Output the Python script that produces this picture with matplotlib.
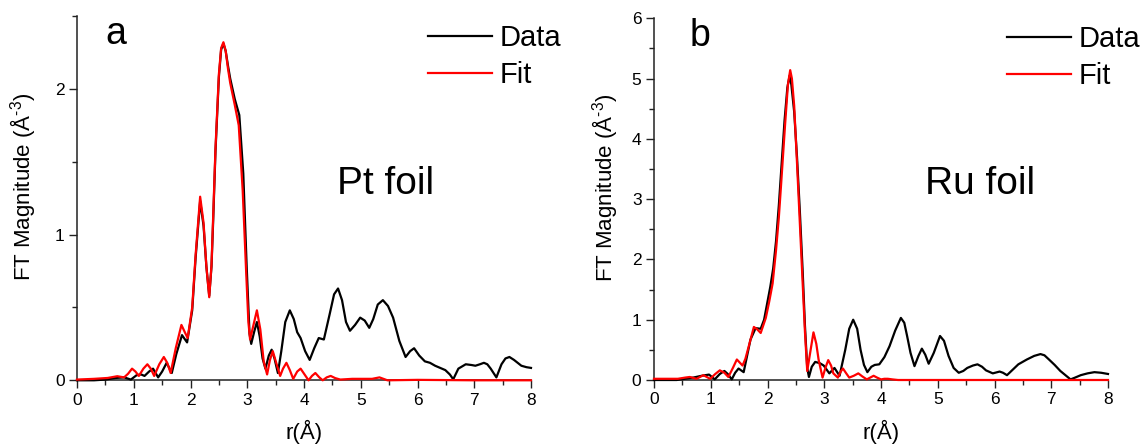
import matplotlib
matplotlib.use("Agg")
import matplotlib.pyplot as plt
from matplotlib.ticker import MultipleLocator

plt.rcParams['font.family'] = ['Liberation Sans', 'DejaVu Sans']
plt.rcParams['mathtext.fontset'] = 'custom'
plt.rcParams['mathtext.rm'] = 'Liberation Sans'
plt.rcParams['mathtext.it'] = 'Liberation Sans:italic'

# ---------------- Panel a: Pt foil ----------------
ra_data = [0.0, 0.3, 0.5, 0.68, 0.83, 0.95, 1.05, 1.13, 1.19, 1.27, 1.34, 1.43, 1.5, 1.58, 1.67,
           1.75, 1.85, 1.94, 2.03, 2.09, 2.17, 2.23, 2.28, 2.33, 2.37, 2.40, 2.44, 2.50, 2.54, 2.58,
           2.62, 2.66, 2.70, 2.78, 2.86, 2.93, 2.99, 3.04, 3.07, 3.12, 3.17, 3.22, 3.27, 3.32, 3.38,
           3.43, 3.48, 3.54, 3.60, 3.67, 3.75, 3.82, 3.88, 3.94, 4.02, 4.10, 4.18, 4.26, 4.35, 4.45,
           4.53, 4.60, 4.67, 4.74, 4.81, 4.90, 4.99, 5.07, 5.15, 5.22, 5.30, 5.39, 5.48, 5.57, 5.68,
           5.79, 5.87, 5.94, 6.03, 6.13, 6.22, 6.31, 6.40, 6.49, 6.57, 6.63, 6.72, 6.85, 6.95, 7.02,
           7.10, 7.17, 7.23, 7.29, 7.39, 7.48, 7.55, 7.62, 7.70, 7.83, 7.92, 8.0]
va_data = [0.0, 0.0, 0.005, 0.016, 0.02, 0.005, 0.035, 0.04, 0.03, 0.06, 0.08, 0.02, 0.06, 0.12, 0.05,
           0.18, 0.31, 0.26, 0.48, 0.84, 1.23, 1.06, 0.78, 0.58, 0.78, 1.10, 1.57, 2.08, 2.27, 2.31,
           2.26, 2.16, 2.07, 1.93, 1.82, 1.42, 0.78, 0.32, 0.25, 0.33, 0.40, 0.30, 0.15, 0.08, 0.17,
           0.21, 0.15, 0.05, 0.20, 0.40, 0.48, 0.42, 0.33, 0.29, 0.20, 0.14, 0.22, 0.29, 0.28, 0.45,
           0.59, 0.63, 0.55, 0.40, 0.34, 0.38, 0.43, 0.41, 0.36, 0.42, 0.52, 0.55, 0.51, 0.43, 0.27,
           0.16, 0.20, 0.22, 0.17, 0.13, 0.12, 0.10, 0.085, 0.07, 0.04, 0.007, 0.08, 0.11, 0.105, 0.10,
           0.11, 0.12, 0.11, 0.08, 0.02, 0.11, 0.15, 0.16, 0.14, 0.10, 0.09, 0.085]

ra_fit = [0.0, 0.3, 0.54, 0.71, 0.83, 0.90, 0.97, 1.03, 1.09, 1.17, 1.24, 1.30, 1.36, 1.45, 1.53,
          1.59, 1.65, 1.74, 1.84, 1.90, 1.95, 2.03, 2.09, 2.17, 2.23, 2.28, 2.33, 2.37, 2.40, 2.44,
          2.50, 2.54, 2.58, 2.62, 2.66, 2.70, 2.78, 2.85, 2.92, 2.98, 3.02, 3.05, 3.11, 3.17, 3.23,
          3.29, 3.35, 3.40, 3.45, 3.51, 3.58, 3.63, 3.69, 3.75, 3.81, 3.88, 3.94, 4.01, 4.08, 4.14,
          4.20, 4.27, 4.33, 4.40, 4.47, 4.55, 4.64, 4.85, 5.06, 5.20, 5.33, 5.40, 5.47, 6.0, 7.0, 8.0]
va_fit = [0.005, 0.01, 0.016, 0.028, 0.02, 0.045, 0.08, 0.06, 0.03, 0.08, 0.11, 0.08, 0.03, 0.11, 0.16,
          0.12, 0.05, 0.22, 0.38, 0.33, 0.29, 0.50, 0.86, 1.26, 1.08, 0.78, 0.57, 0.79, 1.13, 1.59,
          2.10, 2.28, 2.32, 2.26, 2.14, 2.04, 1.89, 1.75, 1.30, 0.75, 0.40, 0.28, 0.38, 0.48, 0.35,
          0.13, 0.04, 0.14, 0.20, 0.12, 0.03, 0.08, 0.12, 0.07, 0.01, 0.06, 0.08, 0.04, 0.0, 0.03,
          0.05, 0.02, 0.0, 0.02, 0.03, 0.015, 0.005, 0.01, 0.01, 0.01, 0.02, 0.01, 0.0, 0.003, 0.0, 0.0]

# ---------------- Panel b: Ru foil ----------------
rb_data = [0.0, 0.4, 0.54, 0.69, 0.84, 0.97, 1.07, 1.16, 1.24, 1.30, 1.37, 1.43, 1.49, 1.58, 1.64,
           1.70, 1.79, 1.88, 1.94, 2.0, 2.05, 2.10, 2.15, 2.20, 2.25, 2.30, 2.35, 2.39, 2.42, 2.47,
           2.52, 2.57, 2.62, 2.66, 2.70, 2.73, 2.78, 2.84, 2.92, 2.99, 3.09, 3.18, 3.27, 3.37, 3.44,
           3.51, 3.58, 3.64, 3.70, 3.76, 3.83, 3.89, 3.97, 4.06, 4.15, 4.25, 4.35, 4.41, 4.46, 4.52,
           4.59, 4.66, 4.72, 4.78, 4.84, 4.93, 5.04, 5.11, 5.19, 5.28, 5.37, 5.45, 5.52, 5.62, 5.70,
           5.78, 5.85, 5.97, 6.09, 6.15, 6.22, 6.32, 6.42, 6.57, 6.70, 6.81, 6.88, 6.96, 7.06, 7.16,
           7.25, 7.34, 7.42, 7.52, 7.64, 7.76, 7.88, 8.0]
vb_data = [0.0, 0.0, 0.02, 0.04, 0.07, 0.09, 0.01, 0.10, 0.15, 0.10, 0.01, 0.12, 0.19, 0.13, 0.40,
           0.67, 0.86, 0.85, 1.0, 1.3, 1.55, 1.85, 2.3, 2.9, 3.6, 4.3, 4.85, 5.05, 4.9, 4.45,
           3.7, 2.8, 1.8, 0.9, 0.2, 0.05, 0.22, 0.30, 0.28, 0.24, 0.11, 0.20, 0.07, 0.50, 0.85,
           1.00, 0.85, 0.50, 0.25, 0.13, 0.22, 0.25, 0.26, 0.38, 0.56, 0.82, 1.03, 0.95, 0.73, 0.45,
           0.23, 0.40, 0.52, 0.42, 0.27, 0.45, 0.73, 0.65, 0.40, 0.20, 0.12, 0.15, 0.20, 0.24, 0.26,
           0.22, 0.16, 0.11, 0.14, 0.12, 0.08, 0.17, 0.26, 0.34, 0.40, 0.43, 0.41, 0.34, 0.25, 0.15,
           0.08, 0.01, 0.04, 0.08, 0.11, 0.13, 0.12, 0.10]

rb_fit = [0.0, 0.42, 0.55, 0.63, 0.75, 0.87, 0.99, 1.08, 1.16, 1.24, 1.31, 1.39, 1.46, 1.56, 1.61,
          1.67, 1.76, 1.82, 1.88, 1.97, 2.03, 2.09, 2.15, 2.20, 2.24, 2.31, 2.36, 2.40, 2.43, 2.47,
          2.52, 2.57, 2.62, 2.66, 2.70, 2.76, 2.81, 2.86, 2.90, 2.97, 3.02, 3.07, 3.12, 3.16, 3.24,
          3.29, 3.33, 3.38, 3.44, 3.52, 3.60, 3.67, 3.75, 3.81, 3.87, 3.93, 4.0, 4.06, 4.12, 4.20,
          4.30, 8.0]
vb_fit = [0.02, 0.02, 0.04, 0.05, 0.02, 0.08, 0.02, 0.10, 0.16, 0.12, 0.05, 0.20, 0.34, 0.24, 0.35,
          0.56, 0.88, 0.84, 0.78, 1.03, 1.3, 1.6, 2.15, 2.7, 3.25, 4.24, 4.9, 5.14, 5.0, 4.55,
          3.6, 2.6, 1.6, 0.8, 0.15, 0.50, 0.79, 0.60, 0.34, 0.04, 0.20, 0.33, 0.24, 0.11, 0.04,
          0.14, 0.19, 0.12, 0.04, 0.07, 0.11, 0.06, 0.01, 0.04, 0.07, 0.04, 0.01, 0.02, 0.02, 0.01,
          0.0, 0.0]

panels = [
    dict(r_d=ra_data, v_d=va_data, r_f=ra_fit, v_f=va_fit, ylim=(0, 2.5), yticks=[0, 1, 2],
         letter='a', label='Pt foil',
         pos=[77/1147, 1-380.3/447, 454/1147, (380.3-16)/447],
         letter_xy=(0.086, 0.923), label_xy=(0.573, 0.511),
         leg_xy=(428/1147, 1-24/447), ylab_x=-0.085),
    dict(r_d=rb_data, v_d=vb_data, r_f=rb_fit, v_f=vb_fit, ylim=(0, 6), yticks=[0, 1, 2, 3, 4, 5, 6],
         letter='b', label='Ru foil',
         pos=[654/1147, 1-380/447, 454/1147, (380-18.3)/447],
         letter_xy=(0.101, 0.923), label_xy=(0.597, 0.514),
         leg_xy=(1007/1147, 1-25/447), ylab_x=-0.075),
]

fig = plt.figure(figsize=(11.47, 4.47), dpi=100)

for p in panels:
    ax = fig.add_axes(p['pos'])
    ax.plot(p['r_d'], p['v_d'], color='black', lw=1.6, label='Data', clip_on=False, zorder=3)
    ax.plot(p['r_f'], p['v_f'], color='#ff0000', lw=1.6, label='Fit', clip_on=False, zorder=4)
    ax.set_xlim(0, 8)
    ax.set_ylim(*p['ylim'])
    ax.set_xticks(range(0, 9))
    ax.set_yticks(p['yticks'])
    ax.xaxis.set_minor_locator(MultipleLocator(0.5))
    ax.yaxis.set_minor_locator(MultipleLocator(0.5))
    ax.spines['top'].set_visible(False)
    ax.spines['right'].set_visible(False)
    for s in ('left', 'bottom'):
        ax.spines[s].set_linewidth(1.1)
        ax.spines[s].set_color('#222222')
    ax.tick_params(which='major', direction='out', length=6, width=1.0, labelsize=12.5,
                   color='#222222', pad=3)
    ax.tick_params(which='minor', direction='out', length=3.5, width=1.0, color='#222222')
    ax.set_xlabel('r(Å)', fontsize=16)
    ax.xaxis.set_label_coords(0.5, -0.11)
    ax.set_ylabel(r'FT Magnitude (Å$^{\text{-3}}$)', fontsize=16)
    ax.yaxis.set_label_coords(p['ylab_x'], 0.53)
    ax.text(*p['letter_xy'], p['letter'], transform=ax.transAxes, fontsize=27,
            ha='center', va='baseline')
    ax.text(*p['label_xy'], p['label'], transform=ax.transAxes, fontsize=28,
            ha='left', va='baseline')
    ax.legend(loc='upper left', bbox_to_anchor=p['leg_xy'], bbox_transform=fig.transFigure,
              frameon=False, fontsize=21, handlelength=2.2, handletextpad=0.25,
              labelspacing=0.3, borderpad=0, borderaxespad=0)

fig.savefig('out.png', dpi=100)
